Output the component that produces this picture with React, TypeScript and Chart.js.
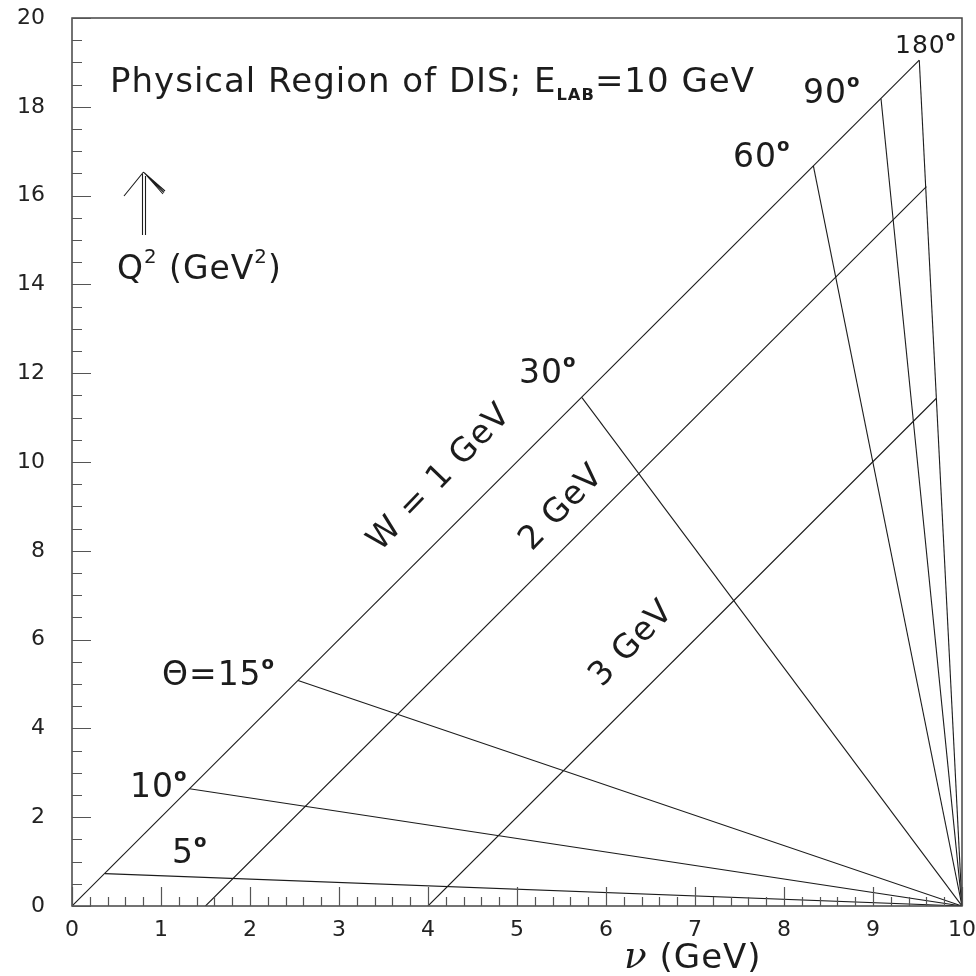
import React, { useEffect, useRef } from 'react';
import { Chart, registerables } from 'chart.js';

Chart.register(...registerables);

// ---- axis ticks ----
const xTickValues = [0, 1, 2, 3, 4, 5, 6, 7, 8, 9, 10];
const yTickValues = [0, 2, 4, 6, 8, 10, 12, 14, 16, 18, 20];
const xMinorStep = 0.2;
const yMinorStep = 0.5;

// ---- data: W = const lines (start on nu axis, end on 180 deg line) ----
const beamEnergy = 10;
const wLabels = ['W = 1 GeV', '2 GeV', '3 GeV'];
const wStartNu = [0, 1.5, 4.0];
const wEndNu = [9.52, 9.6, 9.71];
const wEndQ2 = [19.05, 16.2, 11.43];

// ---- data: scattering-angle lines (from W = 1 GeV line to nu = E) ----
const angleLabels = ['5', '10', 'Θ=15', '30', '60', '90', '180'];
const angleNu = [0.37, 1.32, 2.54, 5.73, 8.33, 9.09, 9.52];
const angleQ2 = [0.73, 2.64, 5.08, 11.45, 16.67, 18.18, 19.05];

const SANS = '"DejaVu Sans", sans-serif';
const SERIF = '"DejaVu Serif", serif';
const INK = '#1c1c1c';

type Part = { t: string; sup?: boolean; sub?: boolean; bold?: boolean; italic?: boolean; family?: string; scale?: number };

function drawRich(ctx: CanvasRenderingContext2D, x: number, y: number, size: number, parts: Part[]) {
  let cx = x;
  for (const p of parts) {
    let fs = size * (p.scale ?? 1);
    let dy = 0;
    if (p.sup) { fs = size * (p.scale ?? 0.55); dy = -size * 0.5; }
    if (p.sub) { fs = size * (p.scale ?? 0.48); dy = size * 0.24; }
    ctx.font = `${p.italic ? 'italic ' : ''}${p.bold ? 'bold ' : ''}${fs}px ${p.family ?? SANS}`;
    ctx.fillText(p.t, cx, y + dy);
    cx += ctx.measureText(p.t).width;
  }
}

// annotation layout (pixel anchors: left / baseline)
const angleLabelPos = [
  { x: 172, y: 863, s: 33 },
  { x: 130, y: 797, s: 33 },
  { x: 162, y: 685, s: 33 },
  { x: 519, y: 383, s: 33 },
  { x: 733, y: 167, s: 33 },
  { x: 803, y: 103, s: 33 },
  { x: 895, y: 53, s: 25 },
];
const wLabelPos = [
  { x: 440, y: 478 },
  { x: 562, y: 508 },
  { x: 632, y: 644 },
];

const decorPlugin = {
  id: 'decor',
  afterDraw(chart: any) {
    const ctx: CanvasRenderingContext2D = chart.ctx;
    const area = chart.chartArea;
    const xs = chart.scales.x;
    const ys = chart.scales.y;
    ctx.save();
    // frame
    ctx.strokeStyle = '#444';
    ctx.lineWidth = 1.5;
    ctx.strokeRect(area.left, area.top, area.right - area.left, area.bottom - area.top);
    // inward ticks
    ctx.lineWidth = 1.2;
    ctx.strokeStyle = '#555';
    ctx.beginPath();
    const xMin = xTickValues[0], xMax = xTickValues[xTickValues.length - 1];
    const nX = Math.round((xMax - xMin) / xMinorStep);
    for (let i = 0; i <= nX; i++) {
      const v = xMin + i * xMinorStep;
      const major = xTickValues.some((t) => Math.abs(t - v) < 1e-6);
      const px = Math.round(xs.getPixelForValue(v)) + 0.5;
      ctx.moveTo(px, area.bottom);
      ctx.lineTo(px, area.bottom - (major ? 19 : 9));
    }
    const yMin = yTickValues[0], yMax = yTickValues[yTickValues.length - 1];
    const nY = Math.round((yMax - yMin) / yMinorStep);
    for (let i = 0; i <= nY; i++) {
      const v = yMin + i * yMinorStep;
      const major = yTickValues.some((t) => Math.abs(t - v) < 1e-6);
      const py = Math.round(ys.getPixelForValue(v)) + 0.5;
      ctx.moveTo(area.left, py);
      ctx.lineTo(area.left + (major ? 19 : 10), py);
    }
    ctx.stroke();

    // texts
    ctx.fillStyle = INK;
    ctx.textAlign = 'left';
    ctx.textBaseline = 'alphabetic';
    ctx.letterSpacing = '1px';
    drawRich(ctx, 110, 92, 34, [
      { t: 'Physical Region of DIS; E' },
      { t: 'LAB', sub: true, bold: true },
      { t: '=10 GeV' },
    ]);
    angleLabels.forEach((lab, i) => {
      const p = angleLabelPos[i];
      drawRich(ctx, p.x, p.y, p.s, [{ t: lab }, { t: 'o', sup: true, bold: true }]);
    });
    drawRich(ctx, 117, 279, 33, [
      { t: 'Q' }, { t: '2', sup: true, scale: 0.6 }, { t: ' (GeV' }, { t: '2', sup: true, scale: 0.6 }, { t: ')' },
    ]);
    drawRich(ctx, 624, 968, 34, [
      { t: 'ν', italic: true, family: SERIF, scale: 1.1 }, { t: ' (GeV)' },
    ]);
    // rotated W labels
    wLabels.forEach((lab, i) => {
      const p = wLabelPos[i];
      ctx.save();
      ctx.translate(p.x, p.y);
      ctx.rotate((-46 * Math.PI) / 180);
      ctx.textAlign = 'center';
      ctx.textBaseline = 'middle';
      ctx.font = `33px ${SANS}`;
      ctx.fillText(lab, 0, 0);
      ctx.restore();
    });
    ctx.letterSpacing = '0px';

    // Q^2 arrow
    ctx.strokeStyle = INK;
    ctx.lineWidth = 1.1;
    ctx.beginPath();
    ctx.moveTo(142.5, 235); ctx.lineTo(142.5, 174);
    ctx.moveTo(145.5, 235); ctx.lineTo(145.5, 176);
    ctx.moveTo(124, 196); ctx.lineTo(143.5, 172);
    ctx.moveTo(143.5, 172); ctx.lineTo(163, 194);
    ctx.moveTo(144.5, 173); ctx.lineTo(164, 192.5);
    ctx.moveTo(145.5, 174); ctx.lineTo(165, 191);
    ctx.stroke();
    ctx.restore();
  },
};

export default function App() {
  const ref = useRef<HTMLCanvasElement | null>(null);
  useEffect(() => {
    if (!ref.current) return;
    const datasets: any[] = [];
    wLabels.forEach((lab, i) => {
      datasets.push({
        label: lab,
        data: [{ x: wStartNu[i], y: 0 }, { x: wEndNu[i], y: wEndQ2[i] }],
        showLine: true, borderColor: INK, borderWidth: 1.1, pointRadius: 0, fill: false,
      });
    });
    angleLabels.forEach((lab, i) => {
      datasets.push({
        label: lab,
        data: [{ x: angleNu[i], y: angleQ2[i] }, { x: beamEnergy, y: 0 }],
        showLine: true, borderColor: INK, borderWidth: 1.1, pointRadius: 0, fill: false,
      });
    });
    const chart = new Chart(ref.current, {
      type: 'scatter',
      data: { datasets },
      options: {
        responsive: false,
        animation: false,
        devicePixelRatio: 1,
        layout: { padding: { left: 0, top: 18, right: 14, bottom: 0 } },
        plugins: { legend: { display: false }, tooltip: { enabled: false } },
        scales: {
          x: {
            type: 'linear', min: 0, max: 10,
            grid: { display: false, drawTicks: false },
            border: { display: false },
            afterBuildTicks: (s: any) => { s.ticks = xTickValues.map((v) => ({ value: v })); },
            afterFit: (s: any) => { s.height = 70; s.paddingLeft = 0; s.paddingRight = 0; },
            ticks: { color: '#222', font: { family: SANS, size: 22 }, padding: 11, maxRotation: 0, autoSkip: false },
          },
          y: {
            type: 'linear', min: 0, max: 20,
            grid: { display: false, drawTicks: false },
            border: { display: false },
            afterBuildTicks: (s: any) => { s.ticks = yTickValues.map((v) => ({ value: v })); },
            afterFit: (s: any) => { s.width = 72; s.paddingTop = 0; s.paddingBottom = 0; },
            ticks: { color: '#222', font: { family: SANS, size: 22 }, padding: 27, autoSkip: false },
          },
        },
      },
      plugins: [decorPlugin],
    });
    return () => chart.destroy();
  }, []);
  return (
    <canvas
      ref={ref}
      width={976}
      height={976}
      style={{ position: 'absolute', left: 0, top: 0, width: 976, height: 976, background: '#fff' }}
    />
  );
}
